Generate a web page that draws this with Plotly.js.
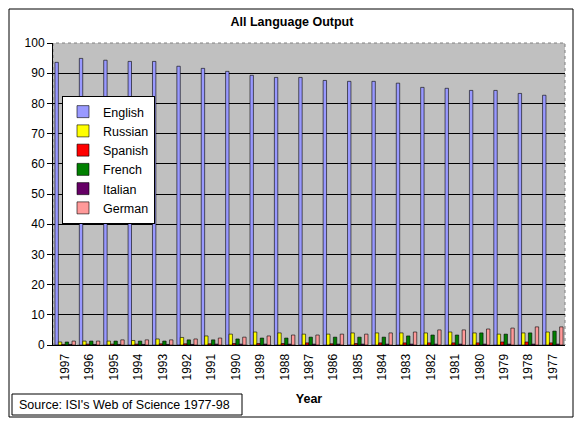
<!DOCTYPE html>
<html>
<head>
<meta charset="utf-8">
<script src="https://cdn.plot.ly/plotly-3.0.1.min.js"></script>
<style>html,body{margin:0;padding:0;background:#fff;}#chart{width:577px;height:423px;}</style>
</head>
<body>
<div id="chart"></div>
<script>
var years = ["1997","1996","1995","1994","1993","1992","1991","1990","1989","1988","1987","1986","1985","1984","1983","1982","1981","1980","1979","1978","1977"];
var english = [93.6, 94.9, 94.3, 93.9, 93.9, 92.3, 91.6, 90.6, 89.3, 88.6, 88.6, 87.6, 87.3, 87.3, 86.7, 85.3, 85.0, 84.3, 84.3, 83.3, 82.7];
var russian = [1.0, 1.3, 1.3, 1.5, 2.0, 2.5, 3.0, 3.6, 4.3, 4.0, 3.6, 3.6, 4.0, 4.0, 4.0, 4.0, 4.3, 4.0, 3.6, 4.0, 4.3];
var spanish = [0.2, 0.3, 0.3, 0.3, 0.4, 0.4, 0.4, 0.5, 0.5, 0.5, 0.7, 0.4, 0.5, 0.7, 0.7, 0.7, 0.7, 0.7, 1.0, 1.0, 0.7];
var french = [1.0, 1.3, 1.3, 1.3, 1.3, 1.7, 1.7, 2.0, 2.3, 2.3, 2.6, 2.6, 2.6, 2.6, 3.0, 3.3, 3.3, 4.0, 3.6, 4.0, 4.6];
var italian = [0.2, 0.2, 0.2, 0.2, 0.2, 0.2, 0.3, 0.3, 0.3, 0.3, 0.3, 0.3, 0.3, 0.3, 0.3, 0.3, 0.3, 0.3, 0.3, 0.3, 0.3];
var german = [1.3, 1.3, 1.7, 1.7, 1.7, 2.0, 2.3, 2.6, 3.0, 3.3, 3.3, 3.6, 3.6, 4.0, 4.3, 5.0, 5.0, 5.3, 5.6, 6.0, 6.0];
var yTicks = [0,10,20,30,40,50,60,70,80,90,100];

var FONT = "Arial, 'Liberation Sans', sans-serif";
function bar(name, vals, color) {
  return {type:'bar', name:name, x:years, y:vals,
    marker:{color:color, line:{color:'#000', width:0.6}}};
}
var data = [
  bar('English', english, '#9999ff'),
  bar('Russian', russian, '#ffff00'),
  bar('Spanish', spanish, '#ff0000'),
  bar('French', french, '#008000'),
  bar('Italian', italian, '#660066'),
  bar('German', german, '#ff9999')
];

var L=53, R=565, T=43, B=345, W=577, H=423;
function px(x){return (x-L)/(R-L);}
function py(y){return (B-y)/(B-T);}

var layout = {
  width:W, height:H,
  margin:{l:L, r:W-R, t:T, b:H-B, pad:0},
  paper_bgcolor:'#ffffff', plot_bgcolor:'#c0c0c0',
  font:{family:FONT, size:12, color:'#000'},
  barmode:'group', bargap:0.16, bargroupgap:0,
  title:{text:'<b>All Language Output</b>', font:{family:FONT, size:12.5, color:'#000'},
    x:0.506, xref:'container', xanchor:'center', y:1-22/H, yref:'container', yanchor:'middle'},
  showlegend:true,
  legend:{x:px(62), y:py(96), xanchor:'left', yanchor:'top', bgcolor:'#fff',
    bordercolor:'#000', borderwidth:1, font:{family:FONT, size:12.5, color:'#000'},
    itemwidth:30, tracegroupgap:0},
  xaxis:{type:'category', categoryorder:'array', categoryarray:years,
    tickangle:-90, tickfont:{family:FONT, size:12}, showline:true, linecolor:'#000', linewidth:1,
    ticks:'', ticklabelstandoff:3, showgrid:false, zeroline:false,
    title:{text:'<b>Year</b>', font:{family:FONT, size:12.5}, standoff:14}},
  yaxis:{range:[0,100], tickvals:yTicks, ticktext:yTicks.map(String), showgrid:true, gridcolor:'#000', gridwidth:1,
    showline:true, linecolor:'#000', linewidth:1, ticks:'outside', ticklen:5, tickcolor:'#000',
    tickfont:{family:FONT, size:12}, zeroline:false},
  shapes:[
    {type:'rect', xref:'paper', yref:'paper', x0:0, x1:1, y0:0, y1:1, layer:'below',
      line:{color:'#808080', width:1, dash:'dot'}},
    {type:'rect', xref:'paper', yref:'paper', x0:px(9), x1:px(573), y0:py(417), y1:py(9),
      line:{color:'#000', width:1}},
    {type:'rect', xref:'paper', yref:'paper', x0:px(12), x1:px(242), y0:py(415), y1:py(394),
      line:{color:'#000', width:1}}
  ],
  annotations:[
    {xref:'paper', yref:'paper', x:px(17), y:py(404.5), xanchor:'left', yanchor:'middle',
      text:"Source: ISI's Web of Science 1977-98", showarrow:false, font:{family:FONT, size:12.5, color:'#000'}}
  ]
};
Plotly.newPlot('chart', data, layout, {staticPlot:true, displayModeBar:false});
</script>
</body>
</html>
